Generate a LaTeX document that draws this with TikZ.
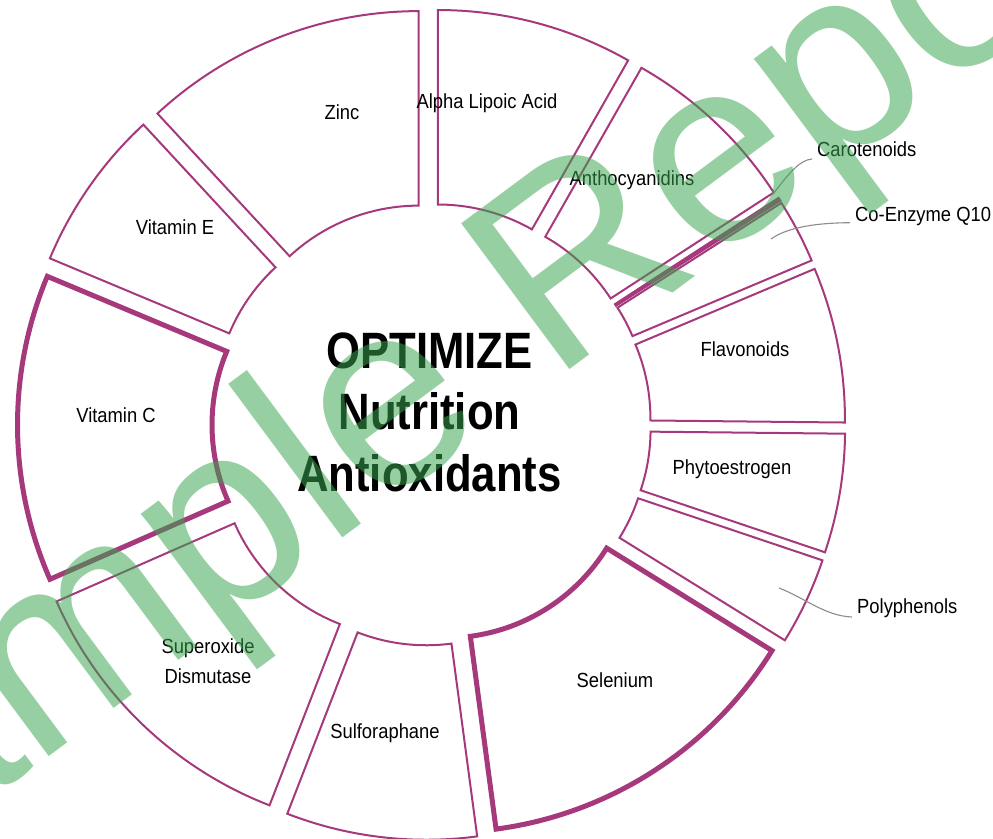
\documentclass[tikz,border=0pt]{standalone}
\usepackage{fontspec}
\usetikzlibrary{calc}
\setmainfont{Liberation Sans}
\newfontfamily\labelfont{Liberation Sans}[FakeStretch=0.9]
\newfontfamily\titlefont{Liberation Sans}[FakeStretch=0.855]
\newfontfamily\wmfont{Liberation Sans}
\definecolor{slicec}{RGB}{165,57,124}
\definecolor{leadc}{RGB}{140,140,140}
\definecolor{wmc}{RGB}{57,166,79}
\newcommand{\ringslice}[4]{%
  \pgfmathsetmacro{\midang}{(#1+#2)/2}%
  \draw[#4, shift={(\midang:#3bp)}] (#1:384.5bp)
    arc[start angle=#1, end angle=#2, radius=384.5bp]
    -- (#2:190bp)
    arc[start angle=#2, end angle=#1, radius=190bp] -- cycle;
}
\begin{document}
\begin{tikzpicture}[x=1bp, y=1bp,
  ringpart/.style={draw=slicec, line width=2bp, fill=white},
  ringsel/.style={draw=slicec, line width=5bp, fill=white},
  ringthin/.style={draw=slicec, line width=2.6bp, fill=slicec},
  lbl/.style={font=\labelfont\fontsize{20.5}{30}\selectfont, inner sep=0pt, text=black},
  leader/.style={draw=leadc, line width=1.1bp},
  ttl/.style={font=\titlefont\bfseries\fontsize{51.3}{60}\selectfont, inner sep=0pt, text=black},
  wm/.style={font=\wmfont\fontsize{265}{265}\selectfont, text=wmc, text opacity=0.53, inner sep=0pt}]
\fill[white] (0,0) rectangle (993,839);
\useasboundingbox (0,0) rectangle (993,839);
% ring slices (centre of ring at (430,414.5))
\begin{scope}[shift={(430,414.5)}]
\ringslice{60.35}{90}{31}{ringpart}
\ringslice{33.0}{60.35}{31}{ringpart}
\ringslice{22.9}{32.6}{31}{ringpart}
\ringslice{32.6}{33.0}{31}{ringthin}
\ringslice{-0.6}{22.9}{31}{ringpart}
\ringslice{341.4}{359.4}{31}{ringpart}
\ringslice{328.2}{341.4}{31}{ringpart}
\ringslice{248.8}{277.6}{31}{ringpart}
\ringslice{203.7}{248.8}{31}{ringpart}
\ringslice{132.8}{157.3}{31}{ringpart}
\ringslice{90}{132.8}{31}{ringpart}
\ringslice{277.6}{328.2}{28}{ringsel}
\ringslice{157.3}{203.7}{28}{ringsel}
\end{scope}
% labels
\node[lbl, anchor=base] (zinc) at (342,719.5) {Zinc};
\node[lbl, anchor=base] (alpha) at (487,730) {Alpha Lipoic Acid};
\node[lbl, anchor=base] (antho) at (632,653) {Anthocyanidins};
\node[lbl, anchor=base west] (carot) at (817,682) {Carotenoids};
\node[lbl, anchor=base west] (coenz) at (855,617.5) {Co-Enzyme Q10};
\node[lbl, anchor=base] (flav) at (745,482) {Flavonoids};
\node[lbl, anchor=base] (phyto) at (732,364) {Phytoestrogen};
\node[lbl, anchor=base west] (poly) at (857,225.7) {Polyphenols};
\node[lbl, anchor=base] (selen) at (615,151) {Selenium};
\node[lbl, anchor=base] (sulfo) at (385,100) {Sulforaphane};
\node[lbl, align=center] (sod) at (208,178.1) {Superoxide\\Dismutase};
\node[lbl, anchor=base] (vitc) at (116,416) {Vitamin C};
\node[lbl, anchor=base] (vite) at (175,604) {Vitamin E};
% leader lines
\coordinate (carotpt) at (773,645);
\coordinate (coenzpt) at (771,600);
\coordinate (polypt) at (779,251);
\draw[leader] (carotpt) .. controls (790,667) and (800,679) .. ($(carot.base west)+(-5,-2)$);
\draw[leader] (coenzpt) .. controls (785,610) and (810,616) .. ($(coenz.base west)+(-5,-1.2)$);
\draw[leader] (polypt) .. controls (805,241) and (825,223) .. ($(poly.base west)+(-5,-3.7)$);
% centre title
\node[ttl, anchor=base] (t1) at (429.5,470.7) {OPTIMIZE};
\node[ttl, anchor=base] (t2) at (429.5,409) {Nutrition};
\node[ttl, anchor=base] (t3) at (429.5,347.3) {Antioxidants};
% watermark
\node[wm, rotate=36.6, anchor=base west] (wmark) at (-225.1,-121.1) {Sample Report};
\end{tikzpicture}
\end{document}
